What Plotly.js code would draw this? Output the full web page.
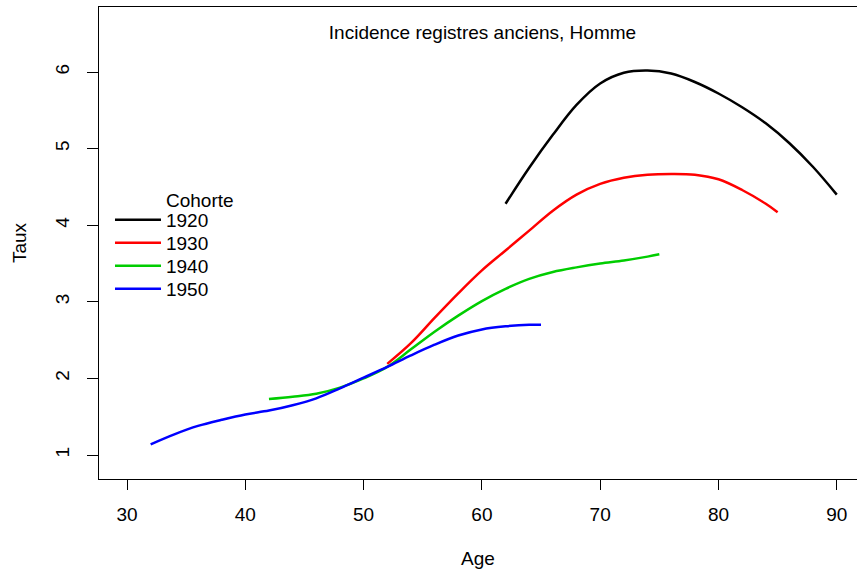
<!DOCTYPE html>
<html>
<head>
<meta charset="utf-8">
<script src="https://cdn.plot.ly/plotly-3.0.1.min.js"></script>
<style>html,body{margin:0;padding:0;background:#fff;}#chart{width:857px;height:574px;}</style>
</head>
<body>
<div id="chart"></div>
<script>
var cohorts = ["1920", "1930", "1940", "1950"];
var colors = ["#000000", "#FF0000", "#00CD00", "#0000FF"];
var legendTitle = "Cohorte";

var age1920 = [62, 64, 66, 68, 70, 72, 74, 76, 78, 80, 82, 84, 86, 88, 90];
var taux1920 = [4.28, 4.75, 5.18, 5.57, 5.85, 5.99, 6.02, 5.98, 5.87, 5.72, 5.54, 5.33, 5.07, 4.76, 4.40];

var age1930 = [52, 54, 56, 58, 60, 62, 64, 66, 68, 70, 72, 74, 76, 78, 80, 82, 84, 85];
var taux1930 = [2.19, 2.46, 2.79, 3.11, 3.41, 3.67, 3.93, 4.19, 4.40, 4.54, 4.62, 4.66, 4.67, 4.66, 4.60, 4.46, 4.28, 4.17];

var age1940 = [42, 44, 46, 48, 50, 52, 54, 56, 58, 60, 62, 64, 66, 68, 70, 72, 74, 75];
var taux1940 = [1.73, 1.76, 1.80, 1.88, 2.00, 2.15, 2.38, 2.61, 2.82, 3.01, 3.17, 3.30, 3.39, 3.45, 3.50, 3.54, 3.59, 3.62];

var age1950 = [32, 34, 36, 38, 40, 42, 44, 46, 48, 50, 52, 54, 56, 58, 60, 62, 64, 65];
var taux1950 = [1.14, 1.27, 1.38, 1.46, 1.53, 1.58, 1.65, 1.74, 1.87, 2.01, 2.15, 2.30, 2.44, 2.56, 2.64, 2.68, 2.70, 2.70];

var xTicks = [30, 40, 50, 60, 70, 80, 90];
var yTicks = [1, 2, 3, 4, 5, 6];

var ages = [age1920, age1930, age1940, age1950];
var taux = [taux1920, taux1930, taux1940, taux1950];
var legendIds = ["legend", "legend2", "legend3", "legend4"];

var traces = cohorts.map(function (c, i) {
  return {
    x: ages[i], y: taux[i], name: c, type: "scatter", mode: "lines",
    line: {color: colors[i], width: 2.5, shape: "spline", smoothing: 1},
    legend: legendIds[i],
    hoverinfo: "skip"
  };
});

var fam = "Liberation Sans, Arial, Helvetica, sans-serif";
var font = {family: fam, size: 19, color: "#000"};

// plot area: y from 7px to 479px
function paperY(px) { return (479 - px) / 472; }
var legendRowsPx = [220, 243, 266, 289];

var layout = {
  width: 857, height: 574,
  margin: {l: 99, r: 0, t: 7, b: 95, pad: 0},
  paper_bgcolor: "#fff", plot_bgcolor: "#fff",
  font: font,
  showlegend: true,
  title: {text: "Incidence registres anciens, Homme", x: 0.563, xanchor: "center", y: 0.944, yanchor: "middle",
          font: font},
  xaxis: {
    range: [27.633, 91.71], tickvals: xTicks, ticktext: xTicks.map(String),
    showgrid: false, zeroline: false, showline: true, linecolor: "#000", linewidth: 1, mirror: true,
    ticks: "outside", ticklen: 10, tickwidth: 1, tickcolor: "#000",
    ticklabelstandoff: 8,
    tickfont: font,
    title: {text: "Age", font: font, standoff: 27}
  },
  yaxis: {
    range: [0.687, 6.849], tickvals: yTicks, ticktext: yTicks.map(String),
    showgrid: false, zeroline: false, showline: true, linecolor: "#000", linewidth: 1,
    ticks: "outside", ticklen: 11, tickwidth: 1, tickcolor: "#000", tickangle: -90,
    ticklabelstandoff: 10,
    tickfont: font,
    title: {text: "Taux", font: font, standoff: 20}
  },
  annotations: [{
    text: legendTitle, xref: "paper", yref: "paper", x: (164 - 99) / 758, y: paperY(200),
    xanchor: "left", yanchor: "middle", showarrow: false, font: font
  }]
};

legendIds.forEach(function (id, i) {
  layout[id] = {
    x: 0.0145, xanchor: "left", y: paperY(legendRowsPx[i]), yanchor: "middle",
    bgcolor: "rgba(0,0,0,0)", borderwidth: 0,
    font: font, itemwidth: 46
  };
});

Plotly.newPlot("chart", traces, layout, {displayModeBar: false, staticPlot: true});
</script>
</body>
</html>
